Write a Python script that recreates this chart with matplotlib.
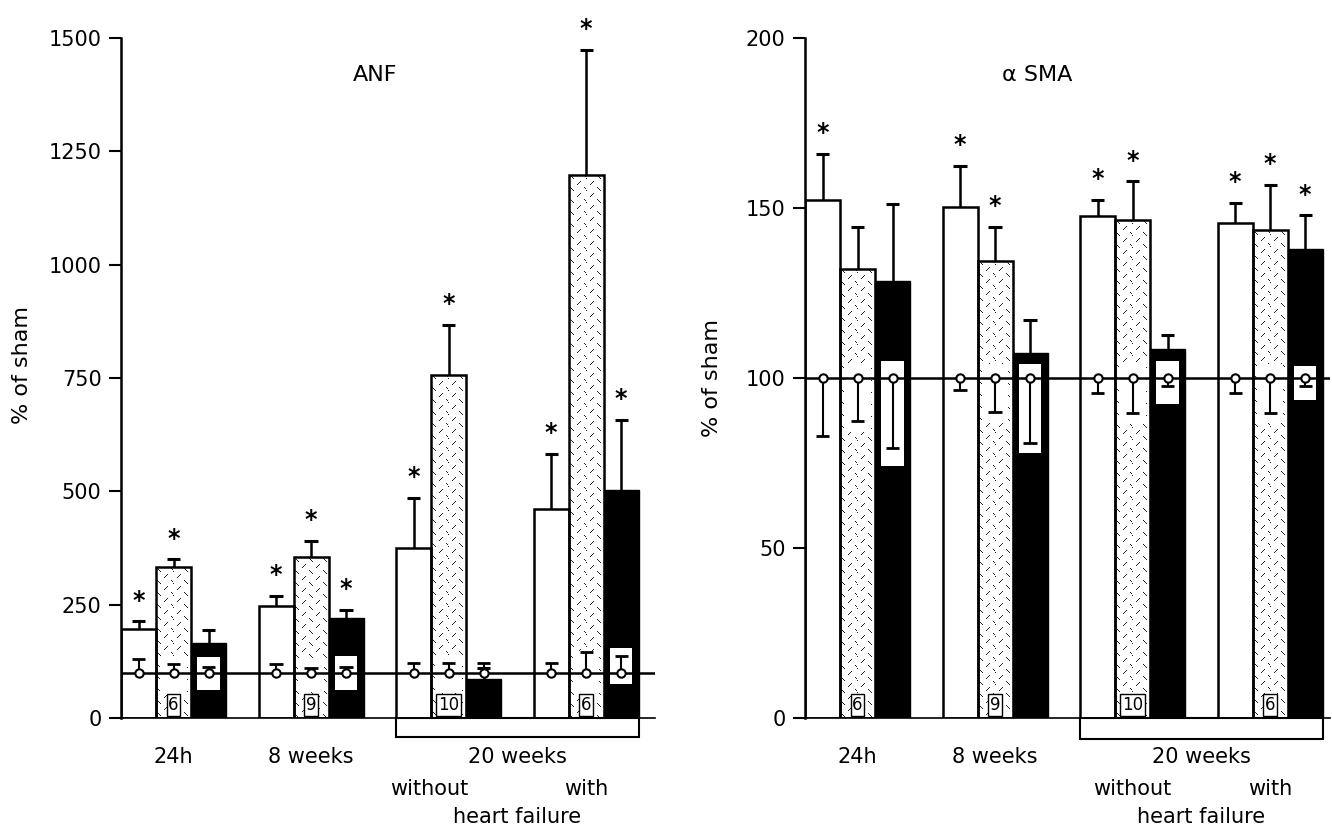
import numpy as np
import matplotlib
matplotlib.use("Agg")
import matplotlib.pyplot as plt
from matplotlib.patches import Rectangle
from matplotlib.transforms import blended_transform_factory

# ---- data (values in % of sham) ----
n_labels = ["6", "9", "10", "6"]

# ANF
anf_white = [197, 248, 375, 460]
anf_white_err = [213, 270, 485, 583]
anf_dotted = [332, 355, 757, 1198]
anf_dotted_err = [350, 390, 868, 1474]
anf_black = [165, 220, 85, 502]
anf_black_err = [194, 238, 110, 657]
anf_stars = [[1, 1, 0], [1, 1, 1], [1, 1, 0], [1, 1, 1]]
# sham value is 100; error bar ends (white, dotted, black) per group
anf_sham_end = [[130, 120, 112], [120, 110, 113], [121, 121, 121], [121, 146, 137]]
anf_black_window = [(62, 135), (62, 137), None, (74, 154)]
anf_dot_window = [(58, 133), (58, 133), (60, 140), (52, 147)]

# alpha SMA
sma_white = [152.5, 150.3, 147.6, 145.7]
sma_white_err = [165.8, 162.5, 152.5, 151.5]
sma_dotted = [132.2, 134.5, 146.6, 143.5]
sma_dotted_err = [144.4, 144.4, 157.8, 156.8]
sma_black = [128.6, 107.4, 108.6, 137.8]
sma_black_err = [151.2, 117.1, 112.6, 147.8]
sma_stars = [[1, 0, 0], [1, 1, 0], [1, 1, 0], [1, 1, 1]]
sma_sham_end = [[83, 87.5, 79.4], [96.5, 90, 81], [95.5, 89.6, 97.7], [95.5, 89.7, 97.7]]
sma_black_window = [(74, 105), (78, 104), (92.5, 105), (93.5, 103.5)]
sma_dot_window = [(84, 104), (87, 104), (87, 104), (87, 104)]

GROUP_STEP = 3.93
W, H = 1332, 827
DPI = 100


def texture(h, w):
    tile = np.ones((12, 14))
    for i in range(4):
        tile[1 + i, 1 + i] = 0.15      # "\" stroke
        tile[10 - i, 8 + i] = 0.15     # "/" stroke
    reps = (h // tile.shape[0] + 2, w // tile.shape[1] + 2)
    return np.tile(tile, reps)[:h, :w]


def panel(ax, vals, errs, stars, sham_end, black_win, dot_win, ymax, step,
          xmax, bracket_h, without_dx):
    ax.set_xlim(0, xmax)
    ax.set_ylim(0, ymax)
    trans = blended_transform_factory(ax.transData, ax.transAxes)
    sx = ax.transData.transform((1, 0))[0] - ax.transData.transform((0, 0))[0]
    sy = (ax.transData.transform((0, 1))[1] - ax.transData.transform((0, 0))[1])

    for g in range(4):
        x0 = g * GROUP_STEP
        for k in range(3):
            left = x0 + k
            xc = left + 0.5
            v = vals[k][g]
            if k == 0:
                ax.add_patch(Rectangle((left, 0), 1, v, fc="white", ec="black", lw=1.8, zorder=2))
            elif k == 1:
                img = texture(int(v * sy) + 1, int(sx) + 1)
                ax.imshow(img, cmap="gray", vmin=0, vmax=1, extent=(left, left + 1, 0, v),
                          aspect="auto", interpolation="nearest", zorder=1)
                lo, hi = dot_win[g]
                ax.add_patch(Rectangle((left + 0.12, lo), 0.76, hi - lo, fc="white", ec="none", zorder=1.5))
                ax.add_patch(Rectangle((left, 0), 1, v, fill=False, ec="black", lw=1.8, zorder=2))
            else:
                ax.add_patch(Rectangle((left, 0), 1, v, fc="black", ec="black", lw=1.0, zorder=2))
                if black_win[g] is not None:
                    lo, hi = black_win[g]
                    ax.add_patch(Rectangle((xc - 0.32, lo), 0.64, hi - lo, fc="white", ec="none", zorder=3))
            # error bar (upper only)
            e = errs[k][g]
            ax.vlines(xc, v, e, color="black", lw=1.8, zorder=3)
            ax.hlines(e, xc - 0.19, xc + 0.19, color="black", lw=2.2, zorder=3)
            if stars[g][k]:
                ax.annotate("*", (xc, e), xytext=(0, 15), textcoords="offset points",
                            ha="center", va="center", fontsize=17, fontweight="bold")
            # sham marker
            s = sham_end[g][k]
            ax.vlines(xc, 100, s, color="black", lw=1.5, zorder=5)
            ax.hlines(s, xc - 0.19, xc + 0.19, color="black", lw=2.0, zorder=5)
            ax.plot(xc, 100, "o", ms=6, mfc="white", mec="black", mew=1.5, zorder=6)
        # n box in dotted bar
        ax.annotate(n_labels[g], (x0 + 1.5, 0), xytext=(0, 3), textcoords="offset points",
                    ha="center", va="bottom", fontsize=12, zorder=7,
                    bbox=dict(boxstyle="square,pad=0.1", fc="white", ec="black", lw=1.0))

    ax.axhline(100, color="black", lw=1.8, zorder=4)

    # bracket under the 20-week groups
    bx0 = 2 * GROUP_STEP
    bx1 = 3 * GROUP_STEP + 3
    ax.add_patch(Rectangle((bx0, 0), bx1 - bx0, -bracket_h, transform=trans, fill=False,
                           ec="black", lw=1.5, clip_on=False))

    # group labels
    def fy(py):
        return (718 - py) / 680

    ax.text(1.5, fy(757), "24h", transform=trans, ha="center", va="center", fontsize=15)
    ax.text(GROUP_STEP + 1.5, fy(757), "8 weeks", transform=trans, ha="center", va="center", fontsize=15)
    ax.text((bx0 + bx1) / 2, fy(757), "20 weeks", transform=trans, ha="center", va="center", fontsize=15)
    ax.text(2 * GROUP_STEP + without_dx, fy(789), "without", transform=trans, ha="center", va="center", fontsize=15)
    ax.text(3 * GROUP_STEP + 1.5, fy(789), "with", transform=trans, ha="center", va="center", fontsize=15)
    ax.text((bx0 + bx1) / 2, fy(817), "heart failure", transform=trans, ha="center", va="center", fontsize=15)

    ax.set_yticks(np.arange(0, ymax + 1, step))
    ax.set_xticks([])
    ax.tick_params(axis="y", direction="out", length=9, width=1.5, labelsize=15, pad=5)
    for sp in ("top", "right"):
        ax.spines[sp].set_visible(False)
    ax.spines["left"].set_linewidth(1.8)
    ax.spines["bottom"].set_linewidth(1.2)


fig = plt.figure(figsize=(W / DPI, H / DPI), dpi=DPI)
ax1 = fig.add_axes([121 / W, (H - 718) / H, 534 / W, 680 / H])
ax2 = fig.add_axes([805 / W, (H - 718) / H, 525 / W, 680 / H])

panel(ax1, [anf_white, anf_dotted, anf_black], [anf_white_err, anf_dotted_err, anf_black_err],
      anf_stars, anf_sham_end, anf_black_window, anf_dot_window, 1500, 250, 534 / 35, 19 / 680, 0.95)
panel(ax2, [sma_white, sma_dotted, sma_black], [sma_white_err, sma_dotted_err, sma_black_err],
      sma_stars, sma_sham_end, sma_black_window, sma_dot_window, 200, 50, 525 / 35, 21 / 680, 1.5)

fig.text(375 / W, 1 - 75 / H, "ANF", ha="center", va="center", fontsize=16)
fig.text(1037 / W, 1 - 75 / H, "α SMA", ha="center", va="center", fontsize=16)
fig.text(22 / W, 1 - 365 / H, "% of sham", rotation=90, ha="center", va="center", fontsize=16)
fig.text(712 / W, 1 - 378 / H, "% of sham", rotation=90, ha="center", va="center", fontsize=16)

fig.savefig("out.png", dpi=DPI)
